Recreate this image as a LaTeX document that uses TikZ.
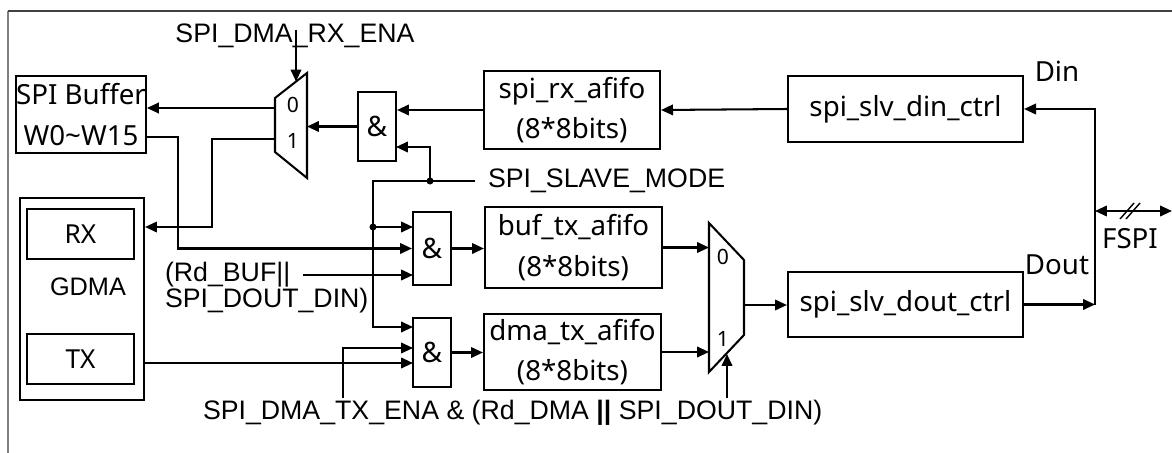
\documentclass[tikz,border=0pt]{standalone}
\usepackage{fontspec}
\setmainfont{Liberation Sans}
\newfontfamily\notosans{Noto Sans}
\usetikzlibrary{arrows.meta,positioning}
\newcommand{\boxfont}{\notosans\fontsize{19.7}{29}\selectfont}
\newcommand{\sigfont}{\fontsize{19}{27}\selectfont}
\newcommand{\pinfont}{\notosans\fontsize{15}{17}\selectfont}
\newcommand{\gatefont}{\notosans\fontsize{20}{22}\selectfont}

\begin{document}
\begin{tikzpicture}[x=0.025cm,y=-0.025cm,line width=1.45pt,
  blk/.style={draw,align=center,inner sep=0pt,font=\boxfont},
  gate/.style={draw,minimum width=0.95cm,minimum height=1.75cm,inner sep=0pt,font=\gatefont},
  sig/.style={inner sep=0pt,font=\sigfont,align=left},
  pin/.style={inner sep=0pt,font=\pinfont},
  arr/.style={-{Triangle[length=8.5pt,width=7.5pt]}},
  jdot/.style={circle,fill,inner sep=0pt,minimum size=5pt}]
\useasboundingbox (0,0) rectangle (1172,453);
% ---- frame ----
\draw[gray,line width=1.2pt] (8,453) -- (8,11);
\draw[black!75,line width=0.8pt] (8,11) -- (1172,11);
% ---- left side: buffer and GDMA ----
\node[blk,minimum width=3.2cm,minimum height=1.925cm] (buf) at (81,114.5) {SPI Buffer\\W0\textasciitilde W15};
\node[draw,minimum width=3.1cm,minimum height=5.05cm] (gdma) at (82,299) {};
\node[blk,minimum width=2.675cm,minimum height=1.25cm,font=\notosans\fontsize{18.6}{22}\selectfont] (rx) at (80.5,234) {RX};
\node[blk,minimum width=2.675cm,minimum height=1.25cm,font=\notosans\fontsize{18.6}{22}\selectfont] (tx) at (80.5,359) {TX};
\node[inner sep=0pt,font=\fontsize{18}{20}\selectfont] (gdmalab) at (88,287) {GDMA};
% ---- rx demux ----
\draw (275,98) -- (307,73) -- (307,178) -- (275,152) -- cycle;
\coordinate (m0a) at (275,108);
\coordinate (m0b) at (275,139);
\coordinate (m0in) at (307,126.5);
\coordinate (m0sel) at (296,81.5);
\node[pin] (m0p0) at (293,105) {0};
\node[pin] (m0p1) at (293,141) {1};
% ---- gates ----
\node[gate,minimum height=1.725cm] (and0) at (377,126.5) {\&};
\node[gate,minimum height=1.825cm] (and1) at (432,248.5) {\&};
\node[gate,minimum height=1.725cm] (and2) at (432,352.5) {\&};
\coordinate (a0b) at (396,147);
\coordinate (a1a) at (413,227);
\coordinate (a1c) at (413,274);
\coordinate (a2a) at (413,327);
\coordinate (a2b) at (413,348);
\coordinate (a2c) at (413,363);
% ---- fifos ----
\node[blk,minimum width=4.4cm,minimum height=1.95cm] (rxf) at (572,110) {spi\_rx\_afifo\\(8*8bits)};
\node[blk,minimum width=4.425cm,minimum height=2.025cm] (btxf) at (573.5,247.5) {buf\_tx\_afifo\\(8*8bits)};
\node[blk,minimum width=4.425cm,minimum height=1.9cm] (dtxf) at (572.5,352) {dma\_tx\_afifo\\(8*8bits)};
% ---- tx mux ----
\draw (709,223) -- (744,260) -- (744,335) -- (709,372) -- cycle;
\coordinate (m1l) at (709,300);
\coordinate (m1out) at (744,305);
\coordinate (m1sel) at (727,354);
\node[pin] (m1p0) at (723,257) {0};
\node[pin] (m1p1) at (723,339) {1};
% ---- slave controllers ----
\node[blk,minimum width=5.875cm,minimum height=1.65cm] (din) at (905.5,109) {spi\_slv\_din\_ctrl};
\node[blk,minimum width=5.875cm,minimum height=1.625cm] (dout) at (905.5,304.5) {spi\_slv\_dout\_ctrl};
\node[inner sep=0pt,font=\boxfont] (dinlab) at (1057,71) {Din};
\node[inner sep=0pt,font=\boxfont] (doutlab) at (1057,265) {Dout};
\node[inner sep=0pt,font=\boxfont] (fspilab) at (1130,239) {FSPI};
\coordinate (jdo) at (1095,304.5);
\coordinate (jfl) at (1095,211);
\coordinate (jfr) at (1172,211);
% ---- signal labels ----
\node[sig] (rxena) at (295,36) {SPI\_DMA\_RX\_ENA};
\node[sig,anchor=west] (smode) at (487,181) {SPI\_SLAVE\_MODE};
\node[sig,anchor=west] (rdbuf) at (164,275) {(Rd\_BUF||};
\node[sig,anchor=west] (rddin) at (164,301) {SPI\_DOUT\_DIN)};
\node[sig,anchor=west] (txena) at (202,413) {SPI\_DMA\_TX\_ENA \& (Rd\_DMA \textbf{||} SPI\_DOUT\_DIN)};
\coordinate (rxsel) at (296,30);
\coordinate (jsm) at (373,181);
\coordinate (dsm) at (430,181);
\coordinate (jtx) at (343,398);
\coordinate (dosel) at (727,398);
\coordinate (jrx) at (212,227);
\coordinate (jbuf) at (178,137);
% ---- rx path ----
\draw[arr] (din.west) -- (rxf.east);
\draw[arr] (rxf.west) -- (rxf.west -| and0.east);
\draw[arr] (and0.west) -- (m0in);
\draw[arr] (rxsel) -- (m0sel);
\draw[arr] (m0a) -- (m0a -| buf.east);
\draw[arr] (m0b) -| (jrx) -- (jrx -| gdma.east);
% ---- slave mode enables ----
\draw[arr] ([xshift=-0.3cm]smode.west) -- (jsm) |- (a2a);
\draw[arr] (dsm) |- (a0b);
\draw[arr] (jsm |- a1a) -- (a1a);
\node[jdot] (dot1) at (dsm) {};
\node[jdot] (dot2) at (jsm |- a1a) {};
% ---- tx path ----
\draw[arr] (buf.east |- jbuf) -- (jbuf) |- (and1.west);
\draw[arr] ([xshift=0.3cm]rdbuf.east) -- (rdbuf.east -| a1c);
\draw[arr] (gdma.east |- a2c) -- (a2c);
\draw[arr] (jtx) |- (a2b);
\draw[arr] (and1.east) -- (and1.east -| btxf.west);
\draw[arr] (and2.east) -- (and2.east -| dtxf.west);
\draw[arr] (btxf.east) -- (btxf.east -| m1l);
\draw[arr] (dtxf.east) -- (dtxf.east -| m1l);
\draw[arr] (m1out) -- (m1out -| dout.west);
\draw[arr] (dosel) -- (m1sel);
% ---- FSPI pins ----
\draw[arr] (dout.east) -- (jdo);
\draw[arr] (jdo) |- (din.east);
\draw[{Triangle[length=8.5pt,width=7.5pt]}-{Triangle[length=8.5pt,width=7.5pt]}] (jfl) -- (jfr);
\draw[line width=1pt] (1120,219) -- (1134,203);
\draw[line width=1pt] (1126,219) -- (1140,203);
\end{tikzpicture}
\end{document}
